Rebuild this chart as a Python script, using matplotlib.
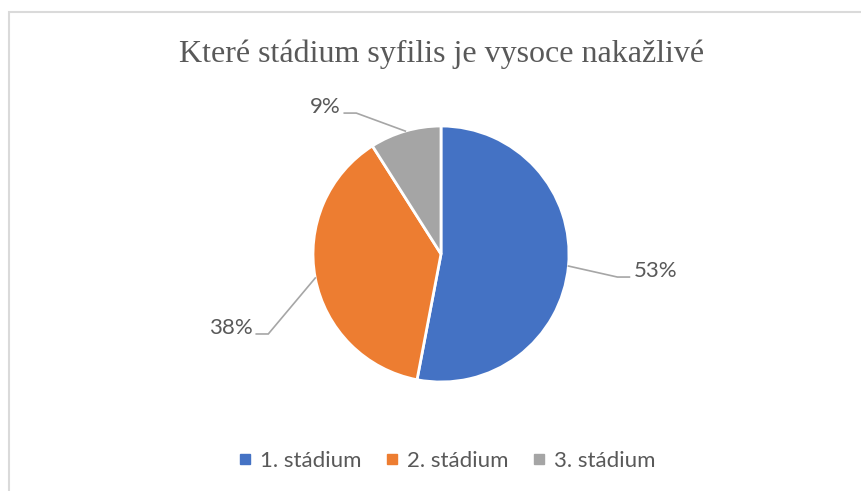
import math
import matplotlib
matplotlib.use("Agg")
import matplotlib.pyplot as plt
from matplotlib.lines import Line2D
from matplotlib.patches import Rectangle

# data
categories = ["1. stádium", "2. stádium", "3. stádium"]
shares = [53, 38, 9]
colors = ["#4472C4", "#ED7D31", "#A5A5A5"]
title = "Které stádium syfilis je vysoce nakažlivé"

W, H = 861, 491
text_color = "#595959"
label_font = "Lato"

fig = plt.figure(figsize=(W / 100, H / 100), dpi=100)
ax = fig.add_axes([0, 0, 1, 1])

# chart frame (only top and left edges visible in the crop)
fig.patches.append(Rectangle((8.5 / W, -0.1), 1.2, (H - 11.5) / H + 0.1,
                             transform=fig.transFigure, fill=False,
                             edgecolor="#DADADA", linewidth=1.5))

cx, cy, r = 441, H - 254, 128
wedges, _ = ax.pie(shares, colors=colors, startangle=90, counterclock=False,
                   center=(cx, cy), radius=r, frame=True,
                   wedgeprops=dict(edgecolor="white", linewidth=2))
ax.set_xlim(0, W)
ax.set_ylim(0, H)
ax.set_aspect("equal")
ax.axis("off")

# leader lines: offset of the elbow from the wedge edge (pixels)
elbows = [(49, -11), (-47, -56), (-49, 18)]
total = sum(shares)
for w, val, (dx, dy) in zip(wedges, shares, elbows):
    mid = math.radians((w.theta1 + w.theta2) / 2)
    x0, y0 = cx + r * math.cos(mid), cy + r * math.sin(mid)
    x1, y1 = x0 + dx, y0 + dy
    side = 1 if dx > 0 else -1
    x2 = x1 + side * 12
    ax.plot([x0, x1, x2], [y0, y1, y1], color="#A6A6A6", lw=1.2,
            solid_joinstyle="miter")
    ax.text(x2 + side * 4, y1 + 6, f"{round(val / total * 100)}%",
            ha="left" if side > 0 else "right", va="center",
            fontsize=16, color=text_color, family=label_font)

ax.text(441.5, H - 62, title, ha="center", va="baseline", fontsize=23,
        color=text_color, family="Liberation Serif")

handles = [Line2D([], [], marker="s", linestyle="none", markersize=7,
                  markerfacecolor=c, markeredgecolor=c) for c in colors]
leg = fig.legend(handles, categories, loc="center", ncol=3,
                 bbox_to_anchor=(447 / W, 1 - 461 / H), frameon=False,
                 handlelength=0.6, handletextpad=0.4, columnspacing=1.05,
                 prop={"family": label_font, "size": 16})
for t in leg.get_texts():
    t.set_color(text_color)

fig.savefig("out.png", dpi=100)
